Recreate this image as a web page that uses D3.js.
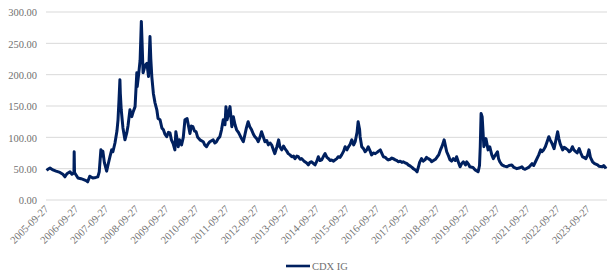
<!DOCTYPE html>
<html>
<head>
<meta charset="utf-8">
<script src="https://cdn.jsdelivr.net/npm/d3@7"></script>
<style>
  html, body { margin: 0; padding: 0; background: #fff; }
  svg { display: block; }
</style>
</head>
<body>
<svg id="chart" width="608" height="275"></svg>
<script>
const seriesName = "CDX IG";
const dates = [
"2005-10-05","2005-10-20","2005-11-15","2005-12-20","2006-01-27","2006-03-15","2006-04-20","2006-05-15","2006-06-08","2006-07-15",
"2006-08-08","2006-09-01","2006-09-04","2006-09-08","2006-09-27","2006-10-20","2006-11-27","2006-12-20","2007-01-27","2007-02-15",
"2007-03-12","2007-04-18","2007-05-25","2007-06-18","2007-07-05","2007-07-25","2007-08-05","2007-08-18","2007-09-05","2007-10-03",
"2007-10-18","2007-11-12","2007-12-03","2007-12-18","2008-01-12","2008-02-05","2008-02-18","2008-03-01","2008-03-12","2008-03-17",
"2008-03-28","2008-04-18","2008-05-12","2008-06-03","2008-06-18","2008-07-12","2008-08-03","2008-08-18","2008-09-12","2008-10-03",
"2008-10-08","2008-10-25","2008-11-12","2008-11-27","2008-12-05","2008-12-18","2009-01-12","2009-02-03","2009-02-22","2009-03-12",
"2009-03-22","2009-04-03","2009-04-22","2009-05-12","2009-06-03","2009-06-18","2009-07-12","2009-08-03","2009-08-22","2009-09-10",
"2009-10-01","2009-10-22","2009-11-10","2009-11-27","2009-12-18","2010-01-08","2010-01-20","2010-02-18","2010-03-05","2010-03-30",
"2010-04-20","2010-05-10","2010-06-05","2010-07-10","2010-07-27","2010-08-15","2010-09-03","2010-09-22","2010-10-12","2010-11-08",
"2010-12-18","2011-01-05","2011-01-27","2011-02-18","2011-03-08","2011-04-18","2011-05-08","2011-05-27","2011-06-18","2011-07-08",
"2011-07-28","2011-08-18","2011-09-08","2011-09-20","2011-10-03","2011-10-18","2011-11-08","2011-11-30","2011-12-18","2012-01-08",
"2012-01-27","2012-02-18","2012-03-05","2012-03-27","2012-04-18","2012-05-08","2012-05-25","2012-06-15","2012-07-05","2012-07-27",
"2012-08-18","2012-09-05","2012-09-27","2012-10-15","2012-11-05","2012-11-25","2012-12-18","2013-01-05","2013-01-27","2013-02-15",
"2013-03-08","2013-03-27","2013-04-18","2013-05-05","2013-05-30","2013-06-20","2013-07-05","2013-07-27","2013-08-18","2013-09-05",
"2013-09-27","2013-10-15","2013-11-05","2013-11-27","2013-12-18","2014-01-05","2014-01-27","2014-02-15","2014-03-08","2014-03-25",
"2014-04-18","2014-05-05","2014-05-27","2014-06-15","2014-07-05","2014-07-25","2014-08-18","2014-09-05","2014-09-27","2014-10-15",
"2014-11-05","2014-11-25","2014-12-18","2015-01-05","2015-01-27","2015-02-15","2015-03-08","2015-03-25","2015-04-18","2015-05-05",
"2015-05-27","2015-06-12","2015-07-05","2015-07-25","2015-08-18","2015-09-05","2015-09-27","2015-10-12","2015-11-05","2015-11-25",
"2015-12-18","2016-01-05","2016-01-28","2016-02-10","2016-02-28","2016-03-05","2016-03-25","2016-04-15","2016-05-05","2016-05-25",
"2016-06-12","2016-07-05","2016-07-22","2016-08-12","2016-09-05","2016-09-27","2016-10-15","2016-11-05","2016-11-25","2016-12-12",
"2017-01-05","2017-01-27","2017-02-10","2017-03-05","2017-03-25","2017-04-10","2017-05-05","2017-05-25","2017-06-10","2017-07-05",
"2017-07-25","2017-08-10","2017-09-05","2017-09-27","2017-10-10","2017-11-05","2017-11-25","2017-12-10","2018-01-05","2018-01-25",
"2018-02-15","2018-02-25","2018-03-20","2018-04-10","2018-05-01","2018-05-20","2018-06-10","2018-07-05","2018-07-20","2018-08-12",
"2018-09-05","2018-09-27","2018-10-15","2018-11-05","2018-11-25","2018-12-20","2019-01-05","2019-01-20","2019-02-12","2019-03-01",
"2019-03-20","2019-04-10","2019-05-05","2019-05-20","2019-06-12","2019-07-01","2019-07-20","2019-08-10","2019-09-05","2019-09-20",
"2019-10-12","2019-10-27","2019-12-05","2020-01-01","2020-02-05","2020-02-22","2020-03-02","2020-03-12","2020-03-25","2020-04-15",
"2020-04-25","2020-05-10","2020-06-05","2020-06-25","2020-07-20","2020-08-08","2020-08-25","2020-09-27","2020-10-10","2020-10-25",
"2020-11-20","2020-12-20","2021-01-20","2021-02-15","2021-03-20","2021-04-15","2021-05-20","2021-06-15","2021-07-20","2021-08-08",
"2021-08-28","2021-10-10","2021-11-20","2021-12-10","2022-01-01","2022-02-10","2022-03-05","2022-03-20","2022-04-10","2022-05-01",
"2022-05-20","2022-06-12","2022-06-28","2022-07-10","2022-07-28","2022-08-15","2022-09-05","2022-09-27","2022-10-12","2022-10-27",
"2022-11-27","2022-12-15","2023-01-08","2023-01-28","2023-02-15","2023-03-05","2023-03-25","2023-04-12","2023-05-05","2023-05-22",
"2023-06-15","2023-07-05","2023-07-25","2023-08-12","2023-09-05","2023-09-27","2023-10-12","2023-10-30","2023-11-25","2023-12-20",
"2024-01-25","2024-02-10","2024-03-25","2024-04-08","2024-04-28","2024-05-05"
];
const values = [
47,49,51,48,46,44,41,37,42,45,
41,43,77,44,40,35,34,33,31,29,
38,35,36,37,45,80,70,78,60,46,
55,69,80,77,91,110,128,160,192,170,
144,115,96,107,118,144,133,140,149,203,
181,200,223,285,255,203,215,218,197,261,
225,197,170,155,144,130,128,115,112,105,
101,108,107,96,90,80,109,85,96,88,
100,128,130,106,118,117,110,109,100,96,
93,88,85,90,93,96,91,93,98,101,
112,128,120,149,128,136,149,117,133,120,
112,108,104,98,93,105,115,125,117,112,
105,101,98,93,100,109,100,93,95,88,
91,88,80,74,85,96,85,80,86,82,
78,74,72,69,70,66,70,69,65,66,
63,61,59,56,60,61,58,56,62,69,
63,64,70,74,68,66,63,64,62,64,
66,69,68,72,78,85,80,84,89,96,
88,93,108,125,112,101,85,82,77,80,
85,78,72,75,74,76,78,80,74,69,
68,65,64,65,67,66,64,63,61,62,
60,61,59,58,56,54,52,50,48,45,
55,60,66,62,64,68,66,64,61,63,
65,69,72,80,86,96,86,77,70,64,
62,66,63,69,60,53,58,61,56,61,
57,53,52,48,45,55,85,138,133,85,
90,98,80,85,72,66,70,77,66,61,
56,54,53,55,56,52,50,51,53,50,
49,52,58,55,61,72,80,77,80,85,
92,101,96,93,88,82,95,109,98,90,
80,84,82,80,77,79,85,80,77,75,
82,75,69,68,66,72,80,68,61,58,
56,54,53,55,52,50
];
const yTicks = [0, 50, 100, 150, 200, 250, 300];
const xTickLabels = ["2005-09-27","2006-09-27","2007-09-27","2008-09-27","2009-09-27","2010-09-27","2011-09-27","2012-09-27","2013-09-27","2014-09-27","2015-09-27","2016-09-27","2017-09-27","2018-09-27","2019-09-27","2020-09-27","2021-09-27","2022-09-27","2023-09-27"];

const parse = d3.utcParse("%Y-%m-%d");
const data = dates.map((d, i) => ({ date: parse(d), value: values[i] }));

const svg = d3.select("#chart");
const font = "'Liberation Serif', 'Times New Roman', serif";
const textColor = "#707070";
const lineColor = "#00205f";

const x = d3.scaleUtc()
  .domain([parse("2005-09-27"), parse("2024-05-06")])
  .range([46, 606]);
const y = d3.scaleLinear().domain([0, 300]).range([200, 12]);

// gridlines
svg.append("g")
  .selectAll("line")
  .data(yTicks)
  .join("line")
  .attr("x1", 46).attr("x2", 607)
  .attr("y1", d => y(d)).attr("y2", d => y(d))
  .attr("stroke", "#d9d9d9").attr("stroke-width", 1);

// y axis labels
const yAxis = d3.axisLeft(y).tickValues(yTicks).tickFormat(d3.format(".2f")).tickSize(0).tickPadding(0);
const gy = svg.append("g").attr("transform", "translate(37,0)").call(yAxis);
gy.select(".domain").remove();
gy.selectAll("text")
  .attr("font-family", font).attr("font-size", 10.5).attr("fill", textColor)
  .attr("dy", "0.35em");

// x axis labels
const xTickDates = xTickLabels.map(parse);
const xAxis = d3.axisBottom(x).tickValues(xTickDates).tickFormat(d3.utcFormat("%Y-%m-%d")).tickSize(0).tickPadding(0);
const gx = svg.append("g").attr("transform", "translate(0,207)").call(xAxis);
gx.select(".domain").remove();
gx.selectAll("text")
  .attr("font-family", font).attr("font-size", 10.5).attr("fill", textColor)
  .attr("text-anchor", "end")
  .attr("dy", "0.35em")
  .attr("transform", "rotate(-45)");

// line
const line = d3.line().x(d => x(d.date)).y(d => y(d.value));
svg.append("path")
  .datum(data)
  .attr("fill", "none")
  .attr("stroke", lineColor)
  .attr("stroke-width", 3)
  .attr("stroke-linejoin", "round")
  .attr("d", line);

// legend
const lg = svg.append("g");
lg.append("line").attr("x1", 286).attr("x2", 310).attr("y1", 266).attr("y2", 266)
  .attr("stroke", lineColor).attr("stroke-width", 2.6);
lg.append("text").attr("x", 312).attr("y", 266).attr("dy", "0.35em")
  .attr("font-family", font).attr("font-size", 10.5).attr("fill", textColor)
  .text(seriesName);
</script>
</body>
</html>
